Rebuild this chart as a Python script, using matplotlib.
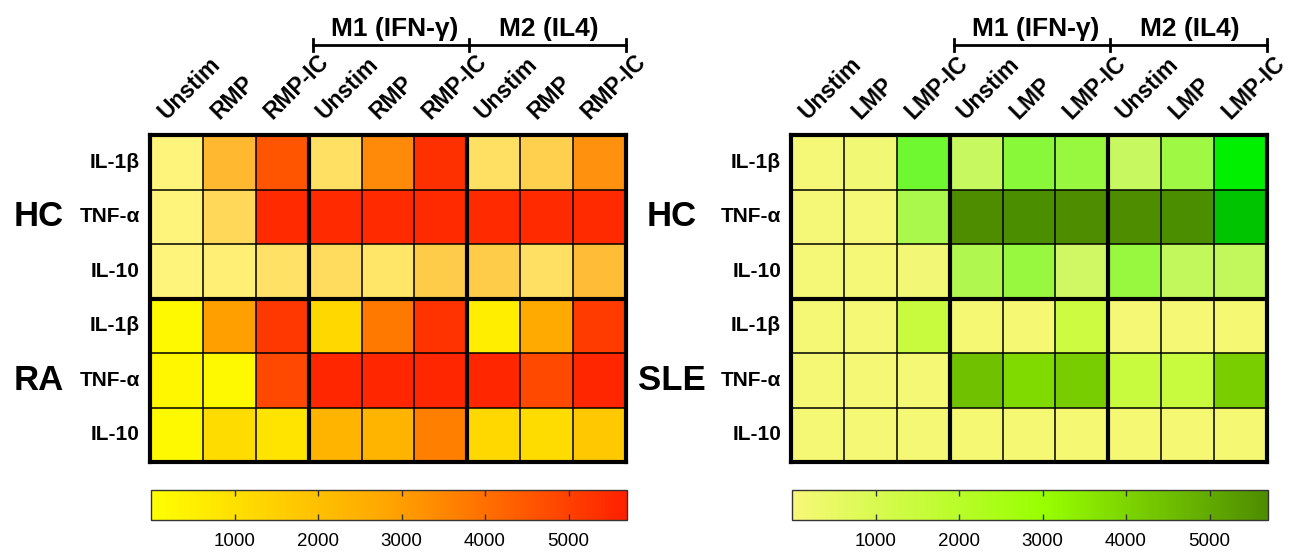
import numpy as np
import matplotlib
matplotlib.use("Agg")
import matplotlib.pyplot as plt
from matplotlib.colors import LinearSegmentedColormap, Normalize
from matplotlib.cm import ScalarMappable

plt.rcParams['font.family'] = ['Liberation Sans', 'DejaVu Sans']

# labels
cols_left = ["Unstim", "RMP", "RMP-IC"] * 3
cols_right = ["Unstim", "LMP", "LMP-IC"] * 3
cytokines = ["IL-1\u03b2", "TNF-\u03b1", "IL-10"]
groups_left = ["HC", "RA"]
groups_right = ["HC", "SLE"]
stims = ["M1 (IFN-\u03b3)", "M2 (IL4)"]
cbar_ticks = [1000, 2000, 3000, 4000, 5000]

# values (pg/ml), rows = IL-1b, TNF-a, IL-10
hc_rmp = [[150, 2000, 4400, 750, 2960, 5470, 750, 1250, 2800],
          [150, 1000, 5650, 5650, 5650, 5650, 5650, 5650, 5650],
          [150, 310, 690, 870, 620, 1370, 1370, 750, 1870]]
ra_rmp = [[220, 2950, 5190, 1240, 3810, 5290, 540, 2690, 5100],
          [260, 220, 4840, 5550, 5550, 5550, 5550, 4840, 5550],
          [220, 1110, 860, 2350, 2350, 3640, 1240, 1110, 1740]]
hc_lmp = [[100, 200, 2850, 1140, 2340, 2000, 1140, 1880, 3700],
          [100, 100, 1710, 5700, 5650, 5680, 5680, 5650, 4560],
          [100, 100, 150, 1570, 2000, 970, 2000, 1250, 1250]]
sle_lmp = [[100, 100, 1510, 150, 150, 1400, 100, 100, 150],
           [100, 100, 100, 4470, 3880, 4170, 1510, 1510, 4150],
           [100, 100, 100, 150, 150, 150, 150, 150, 150]]

vmax = 5700
norm = Normalize(0, vmax)

cmap_ra = LinearSegmentedColormap.from_list(
    "ra", [(0, "#FFFF00"), (0.5, "#FFA500"), (1, "#FF2000")])
cmap_hc_l = LinearSegmentedColormap.from_list(
    "hcl", [(0, "#FFF880"), (0.35, "#FFB830"), (0.55, "#FF8000"), (1, "#FF2800")])
cmap_sle = LinearSegmentedColormap.from_list(
    "sle", [(0, "#F8F878"), (0.53, "#98FF00"), (1, "#4E8C00")])
cmap_hc_r = LinearSegmentedColormap.from_list(
    "hcr", [(0, "#F8F878"), (0.2, "#C8F860"), (0.35, "#98F840"), (0.5, "#70F830"),
            (0.65, "#00F000"), (0.8, "#00C400"), (1, "#4E8C00")])

W, H = 1299, 555
fig = plt.figure(figsize=(W / 100, H / 100), dpi=100)


def box(x0, y0, x1, y1):
    return [x0 / W, 1 - y1 / H, (x1 - x0) / W, (y1 - y0) / H]


def panel(x0, cols, groups, top, bottom, cmap_top, cmap_bottom, group_x):
    ax = fig.add_axes(box(x0, 135, x0 + 476, 462))
    xs = np.arange(10)
    ax.pcolormesh(xs, np.arange(4), np.array(top), cmap=cmap_top, norm=norm)
    ax.pcolormesh(xs, np.arange(3, 7), np.array(bottom), cmap=cmap_bottom, norm=norm)
    ax.set_xlim(0, 9)
    ax.set_ylim(6, 0)
    ax.set_xticks([])
    ax.set_yticks([])
    for k in range(1, 9):
        ax.axvline(k, color="black", lw=3 if k in (3, 6) else 1.1)
    for k in range(1, 6):
        ax.axhline(k, color="black", lw=3 if k == 3 else 1.1)
    for s in ax.spines.values():
        s.set_linewidth(3)

    cw, rh = 476 / 9, 327 / 6
    for j, lab in enumerate(cols):
        ax.text(j + 0.5 - 10 / cw, -15 / rh, lab, rotation=45, rotation_mode="anchor",
                ha="left", va="baseline", fontsize=16.5, fontweight="bold",
                clip_on=False)
    for i in range(6):
        ax.text(-10 / cw, i + 0.5, cytokines[i % 3], ha="right", va="center",
                fontsize=15, fontweight="bold", clip_on=False)
    for g, name in enumerate(groups):
        fig.text(group_x / W, 1 - (135 + rh * (3 * g + 1.5)) / H, name,
                 ha="center", va="center", fontsize=25, fontweight="bold")

    # M1 / M2 bracket
    by = -90 / rh
    tk = 6 / rh
    ax.plot([3.08, 9.0], [by, by], color="black", lw=2, clip_on=False)
    for bx in (3.08, 6.04, 9.0):
        ax.plot([bx, bx], [by - tk, by + tk], color="black", lw=2, clip_on=False)
    ax.text(4.62, -99 / rh, stims[0], ha="center", va="baseline",
            fontsize=19, fontweight="bold", clip_on=False)
    ax.text(7.55, -99 / rh, stims[1], ha="center", va="baseline",
            fontsize=19, fontweight="bold", clip_on=False)
    return ax


def cbar(x0, cmap):
    cax = fig.add_axes(box(x0, 490, x0 + 476, 520))
    cb = fig.colorbar(ScalarMappable(norm=norm, cmap=cmap), cax=cax,
                      orientation="horizontal", ticks=cbar_ticks)
    cb.outline.set_linewidth(1)
    cb.outline.set_edgecolor("#333333")
    cax.tick_params(axis="x", direction="in", top=True, bottom=True, length=4,
                    width=1, color="#333333", labelsize=13.5, pad=9)
    return cb


panel(150, cols_left, groups_left, hc_rmp, ra_rmp, cmap_hc_l, cmap_ra, 39)
panel(791, cols_right, groups_right, hc_lmp, sle_lmp, cmap_hc_r, cmap_sle, 672)
cbar(151, cmap_ra)
cbar(792, cmap_sle)

fig.savefig("out.png", dpi=100)
